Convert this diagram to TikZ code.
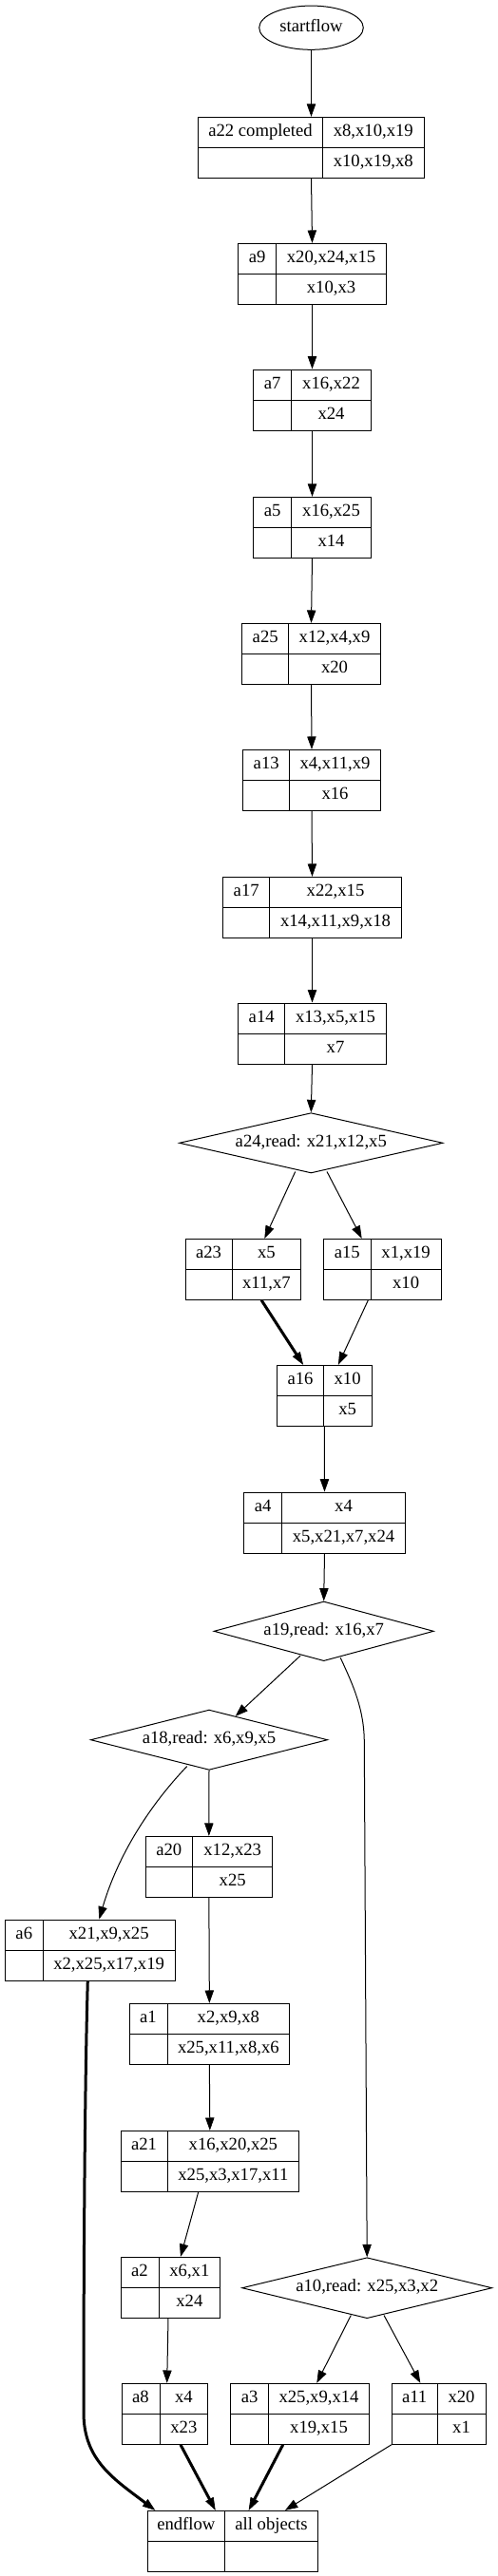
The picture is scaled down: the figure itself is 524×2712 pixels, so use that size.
\documentclass[tikz,border=0pt]{standalone}
\usepackage{fontspec}
\setmainfont{Liberation Serif}
\usetikzlibrary{shapes.geometric,arrows.meta,calc}

% record box: name, left, divider, right, top, label, upper vars, lower vars
\newcommand{\recbox}[8]{%
  \pgfmathsetmacro{\recw}{(#4-#2)*0.75}%
  \node[cell, minimum width=\recw pt] (#1) at ({(#2+#4)/2},#5+32) {};
  \draw (#1.west) -- (#1.east);
  \draw (#3,#5) -- (#3,#5+64);
  \node at ({(#2+#3)/2},#5+16) {#6};
  \node at ({(#3+#4)/2},#5+16) {#7};
  \node at ({(#3+#4)/2},#5+48) {#8};
}

\begin{document}
\begin{tikzpicture}[x=0.75pt,y=-0.75pt,line width=0.75pt,
  font=\fontsize{14pt}{16pt}\selectfont,
  every node/.style={text height=10pt,text depth=4pt,inner sep=0pt},
  cell/.style={draw,minimum height=48pt},
  decision/.style={draw,diamond,aspect=4},
  conn/.style={-{Triangle[length=10pt,width=7pt,line width=0.5pt]}},
  thickconn/.style={conn,line width=2.25pt}]
  \useasboundingbox (0,0) rectangle (524,2712);

  % start
  \node[draw,ellipse,minimum width=82.2pt,minimum height=34.7pt] (startflow) at (327.5,29.2) {startflow};

  % activities
  \recbox{a22}{208.7}{339.3}{446.3}{123.3}{a22 completed}{x8,x10,x19}{x10,x19,x8}
  \recbox{a9}{250.7}{290.7}{406.3}{256.3}{a9}{x20,x24,x15}{x10,x3}
  \recbox{a7}{266.7}{306.7}{390.3}{389}{a7}{x16,x22}{x24}
  \recbox{a5}{266.7}{306.7}{390.3}{523.3}{a5}{x16,x25}{x14}
  \recbox{a25}{254.7}{303.7}{400.3}{656.3}{a25}{x12,x4,x9}{x20}
  \recbox{a13}{255.7}{304.7}{400.3}{789.3}{a13}{x4,x11,x9}{x16}
  \recbox{a17}{234.7}{283.7}{422.3}{923.3}{a17}{x22,x15}{x14,x11,x9,x18}
  \recbox{a14}{250.7}{299.7}{406.3}{1056}{a14}{x13,x5,x15}{x7}
  \recbox{a23}{195}{244}{316.7}{1304.3}{a23}{x5}{x11,x7}
  \recbox{a15}{340.3}{390.3}{464}{1304.3}{a15}{x1,x19}{x10}
  \recbox{a16}{291.7}{340.3}{391}{1437.3}{a16}{x10}{x5}
  \recbox{a4}{256.7}{296.7}{426.3}{1571}{a4}{x4}{x5,x21,x7,x24}
  \recbox{a20}{153}{202.7}{286.7}{1933.3}{a20}{x12,x23}{x25}
  \recbox{a6}{5.3}{45.3}{184}{2021}{a6}{x21,x9,x25}{x2,x25,x17,x19}
  \recbox{a1}{136}{176}{304.7}{2109.3}{a1}{x2,x9,x8}{x25,x11,x8,x6}
  \recbox{a21}{127}{176}{314.7}{2243.3}{a21}{x16,x20,x25}{x25,x3,x17,x11}
  \recbox{a2}{127}{167}{231.7}{2376.3}{a2}{x6,x1}{x24}
  \recbox{a8}{128}{168}{218.7}{2509.3}{a8}{x4}{x23}
  \recbox{a3}{242.7}{282.7}{388.3}{2509.3}{a3}{x25,x9,x14}{x19,x15}
  \recbox{a11}{412.3}{460}{511}{2509.3}{a11}{x20}{x1}
  \recbox{endflow}{155}{236.7}{334.3}{2643.3}{endflow}{all objects}{}

  % reads
  \node[decision,minimum width=208pt,minimum height=47.5pt] (a24) at (327.3,1203.3) {a24,read: x21,x12,x5};
  \node[decision,minimum width=173.5pt,minimum height=47pt] (a19) at (340.7,1717.3) {a19,read: x16,x7};
  \node[decision,minimum width=187pt,minimum height=47.5pt] (a18) at (220,1831.7) {a18,read: x6,x9,x5};
  \node[decision,minimum width=197.3pt,minimum height=48pt] (a10) at (386.2,2408.7) {a10,read: x25,x3,x2};

  % main chain
  \draw[conn] (startflow.south) -- (a22.north);
  \draw[conn] (a22.south) -- (a9.north);
  \draw[conn] (a9.south) -- (a7.north);
  \draw[conn] (a7.south) -- (a5.north);
  \draw[conn] (a5.south) -- (a25.north);
  \draw[conn] (a25.south) -- (a13.north);
  \draw[conn] (a13.south) -- (a17.north);
  \draw[conn] (a17.south) -- (a14.north);
  \draw[conn] (a14.south) -- (a24.north);

  % first split
  \draw[conn] ($(a24.south)+(-16.6,-2)$) -- ($(a23.north)+(22.5,0)$);
  \draw[conn] ($(a24.south)+(16.7,-2)$) -- ($(a15.north)+(-21.5,0)$);
  \draw[thickconn] ($(a23.south)+(19.2,0)$) -- ($(a16.north)+(-22.3,0)$);
  \draw[conn] ($(a15.south)+(-14.8,0)$) -- ($(a16.north)+(14.6,0)$);
  \draw[conn] (a16.south) -- (a4.north);
  \draw[conn] (a4.south) -- (a19.north);

  % second split
  \draw[conn] ($(a19.south)+(-24.7,-6)$) -- ($(a18.north)+(27.7,7.3)$);
  \draw[conn] ($(a19.south)+(17.6,-3.7)$) .. controls (372,1775) and (383.3,1800) .. (383.3,1835) -- (a10.north);
  \draw[conn] (a18.south) -- (a20.north);
  \draw[conn] ($(a18.south)+(-23.3,-4.3)$) .. controls (160,1898) and (125,1950) .. ($(a6.north)+(9.7,0)$);
  \draw[conn] (a20.south) -- (a1.north);
  \draw[conn] (a1.south) -- (a21.north);
  \draw[conn] ($(a21.south)+(-12.15,0)$) -- ($(a2.north)+(10.65,0)$);
  \draw[conn] ($(a2.south)+(-2.35,0)$) -- ($(a8.north)+(2.35,0)$);
  \draw[conn] ($(a10.south)+(-16.9,-3.7)$) -- ($(a3.north)+(17.8,0)$);
  \draw[conn] ($(a10.south)+(17.8,-3.7)$) -- ($(a11.north)+(-19.35,0)$);

  % into endflow
  \draw[thickconn] ($(a6.south)+(-2.35,0)$) .. controls (89,2200) and (88,2400) .. (88,2540) .. controls (88,2590) and (120,2610) .. ($(endflow.north)+(-81.35,0)$);
  \draw[thickconn] ($(a8.south)+(16.65,0)$) -- ($(endflow.north)+(-17.95,0)$);
  \draw[thickconn] ($(a3.south)+(-17.8,0)$) -- ($(endflow.north)+(17.05,0)$);
  \draw[conn] (a11.south west) -- ($(endflow.north)+(55.35,0)$);
\end{tikzpicture}
\end{document}
